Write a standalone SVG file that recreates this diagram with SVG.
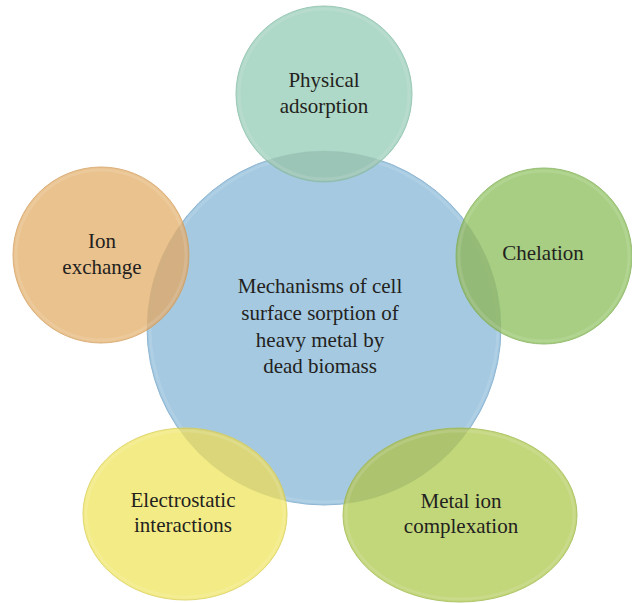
<svg xmlns="http://www.w3.org/2000/svg" xmlns:xlink="http://www.w3.org/1999/xlink" width="632" height="603" viewBox="0 0 632 603">
  <style>
    text { font-family: 'Liberation Serif', 'DejaVu Serif', 'Times New Roman', serif; font-size: 21px; fill: #231f20; text-anchor: middle; }
    .sat { opacity: 0.92; stroke-width: 1; }
    .rim { fill: none; stroke: #ffffff; stroke-opacity: 0.12; stroke-width: 3; }
    .shade { fill: #000000; fill-opacity: 0.07; }
  </style>
  <defs>
    <clipPath id="hubClip">
      <circle cx="324" cy="328" r="177"/>
    </clipPath>
    <circle id="shpPhys" cx="324" cy="94" r="88"/>
    <circle id="shpIon" cx="101" cy="255" r="88"/>
    <circle id="shpChel" cx="544" cy="256" r="88"/>
    <ellipse id="shpElec" cx="185" cy="514" rx="102" ry="86"/>
    <ellipse id="shpMetal" cx="460" cy="515" rx="117" ry="87"/>
  </defs>

  <rect width="632" height="603" fill="#ffffff"/>

  <!-- central hub -->
  <g id="hub">
    <circle cx="324" cy="328" r="177" fill="#a4c9e1" stroke="#8db5d2" stroke-width="1"/>
    <circle cx="324" cy="328" r="174" class="rim"/>
  </g>

  <!-- no connectors: nodes touch by overlapping -->
  <g id="connectors"></g>

  <g id="physical-adsorption">
    <use xlink:href="#shpPhys" class="sat" fill="#a8d5c3" stroke="#92c3b0"/>
    <use xlink:href="#shpPhys" class="shade" clip-path="url(#hubClip)"/>
    <circle cx="324" cy="94" r="85" class="rim"/>
    <text x="324" y="87">Physical</text>
    <text x="324" y="113">adsorption</text>
  </g>

  <g id="ion-exchange">
    <use xlink:href="#shpIon" class="sat" fill="#e9bd84" stroke="#d8a96f"/>
    <use xlink:href="#shpIon" class="shade" clip-path="url(#hubClip)"/>
    <circle cx="101" cy="255" r="85" class="rim"/>
    <text x="102" y="248">Ion</text>
    <text x="102" y="274">exchange</text>
  </g>

  <g id="chelation">
    <use xlink:href="#shpChel" class="sat" fill="#a0ca78" stroke="#8cb865"/>
    <use xlink:href="#shpChel" class="shade" clip-path="url(#hubClip)"/>
    <circle cx="544" cy="256" r="85" class="rim"/>
    <text x="543" y="260">Chelation</text>
  </g>

  <g id="electrostatic-interactions">
    <use xlink:href="#shpElec" class="sat" fill="#f2ea7c" stroke="#ddd466"/>
    <use xlink:href="#shpElec" class="shade" clip-path="url(#hubClip)"/>
    <ellipse cx="185" cy="514" rx="99" ry="83" class="rim"/>
    <text x="183" y="507">Electrostatic</text>
    <text x="183" y="532">interactions</text>
  </g>

  <g id="metal-ion-complexation">
    <use xlink:href="#shpMetal" class="sat" fill="#bdd36f" stroke="#a8c05c"/>
    <use xlink:href="#shpMetal" class="shade" clip-path="url(#hubClip)"/>
    <ellipse cx="460" cy="515" rx="114" ry="84" class="rim"/>
    <text x="461" y="508">Metal ion</text>
    <text x="461" y="533">complexation</text>
  </g>

  <g id="hub-label">
    <text x="320" y="293">Mechanisms of cell</text>
    <text x="320" y="320">surface sorption of</text>
    <text x="320" y="347">heavy metal by</text>
    <text x="320" y="373">dead biomass</text>
  </g>
</svg>
